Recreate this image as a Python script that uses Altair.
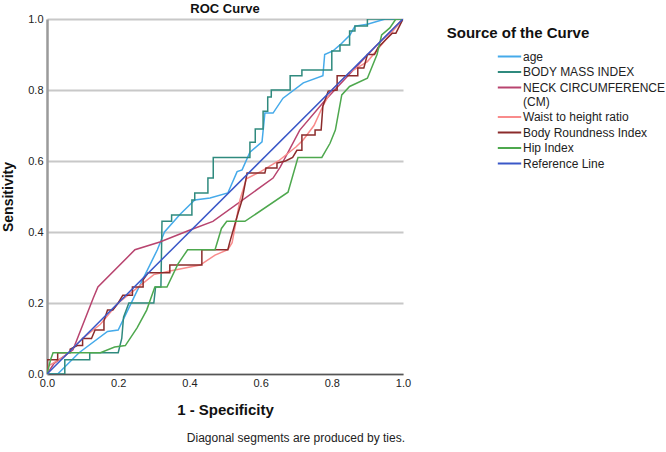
import altair as alt
import pandas as pd

series = ["age", "BODY MASS INDEX", "NECK CIRCUMFERENCE (CM)", "Waist to height ratio",
          "Body Roundness Index", "Hip Index", "Reference Line"]
colors = ["#45aaea", "#2f8a7e", "#b8446f", "#f98b8b", "#8b2b2b", "#4ea84e", "#3a58c8"]

age_x = [0, 0.03, 0.09, 0.17, 0.2, 0.25, 0.31, 0.33, 0.374, 0.415, 0.458, 0.508, 0.534, 0.548,
         0.57, 0.604, 0.612, 0.635, 0.663, 0.72, 0.775, 0.78, 0.803, 0.823, 0.851, 0.865, 0.9, 0.95, 1]
age_y = [0, 0.0, 0.06, 0.12, 0.124, 0.228, 0.35, 0.40, 0.45, 0.49, 0.496, 0.51, 0.57, 0.575,
         0.625, 0.654, 0.735, 0.735, 0.777, 0.82, 0.84, 0.9, 0.91, 0.927, 0.955, 0.98, 0.985, 1.0, 1]

bmi_x = [0, 0.05, 0.05, 0.12, 0.12, 0.2, 0.21, 0.215, 0.23, 0.3, 0.305, 0.32, 0.323, 0.35, 0.35,
         0.374, 0.374, 0.407, 0.407, 0.415, 0.415, 0.452, 0.452, 0.467, 0.467, 0.57, 0.57, 0.585,
         0.585, 0.607, 0.607, 0.62, 0.62, 0.63, 0.63, 0.683, 0.683, 0.716, 0.716, 0.80, 0.80, 0.823,
         0.823, 0.85, 0.85, 0.865, 0.865, 0.9, 0.9, 1]
bmi_y = [0, 0, 0.04, 0.04, 0.06, 0.06, 0.1, 0.16, 0.2, 0.2, 0.245, 0.245, 0.43, 0.43, 0.448,
         0.448, 0.448, 0.448, 0.49, 0.49, 0.51, 0.51, 0.552, 0.552, 0.61, 0.61, 0.653, 0.653,
         0.69, 0.69, 0.74, 0.74, 0.78, 0.78, 0.80, 0.80, 0.84, 0.84, 0.856, 0.856, 0.91, 0.91,
         0.927, 0.927, 0.966, 0.966, 0.98, 0.98, 1.0, 1]

neck_x = [0, 0.02, 0.073, 0.13, 0.143, 0.247, 0.317, 0.40, 0.466, 0.635, 0.655, 0.71, 0.78, 0.85, 0.92, 1]
neck_y = [0, 0.03, 0.068, 0.214, 0.245, 0.35, 0.372, 0.405, 0.43, 0.552, 0.583, 0.687, 0.77, 0.845, 0.92, 1]

waist_x = [0, 0.0, 0.05, 0.1, 0.15, 0.2, 0.25, 0.3, 0.345, 0.43, 0.472, 0.508, 0.52, 0.542, 0.56,
           0.6, 0.65, 0.7, 0.72, 0.75, 0.775, 0.8, 0.85, 0.9, 0.95, 1]
waist_y = [0, 0.02, 0.05, 0.1, 0.14, 0.2, 0.24, 0.28, 0.29, 0.307, 0.335, 0.35, 0.37, 0.49, 0.55,
           0.57, 0.6, 0.64, 0.66, 0.7, 0.755, 0.8, 0.85, 0.88, 0.94, 1]

bri_x = [0, 0, 0.03, 0.03, 0.065, 0.065, 0.085, 0.1, 0.1, 0.125, 0.135, 0.16, 0.16, 0.17, 0.185,
         0.2, 0.213, 0.24, 0.24, 0.27, 0.27, 0.284, 0.345, 0.345, 0.374, 0.374, 0.435, 0.435, 0.508,
         0.513, 0.537, 0.548, 0.562, 0.612, 0.615, 0.646, 0.646, 0.67, 0.69, 0.702, 0.716, 0.716,
         0.753, 0.753, 0.77, 0.775, 0.79, 0.815, 0.815, 0.873, 0.873, 0.89, 0.9, 0.92, 0.93, 0.95,
         0.97, 0.98, 0.99, 1]
bri_y = [0, 0.04, 0.04, 0.06, 0.06, 0.07, 0.08, 0.08, 0.1, 0.1, 0.124, 0.124, 0.15, 0.18, 0.18,
         0.2, 0.222, 0.222, 0.245, 0.245, 0.265, 0.285, 0.285, 0.307, 0.307, 0.307, 0.307, 0.35,
         0.35, 0.37, 0.454, 0.49, 0.566, 0.566, 0.58, 0.58, 0.594, 0.6, 0.61, 0.63, 0.63, 0.673,
         0.673, 0.687, 0.687, 0.755, 0.797, 0.80, 0.84, 0.84, 0.862, 0.862, 0.9, 0.9, 0.92, 0.94,
         0.96, 0.96, 0.98, 1]

hip_x = [0, 0.01, 0.017, 0.15, 0.19, 0.22, 0.253, 0.28, 0.303, 0.337, 0.368, 0.395, 0.472, 0.49,
         0.505, 0.556, 0.677, 0.705, 0.772, 0.795, 0.81, 0.828, 0.85, 0.9, 0.927, 0.94, 0.963, 0.98, 1]
hip_y = [0, 0.04, 0.06, 0.06, 0.076, 0.08, 0.13, 0.18, 0.245, 0.245, 0.31, 0.35, 0.35, 0.41,
         0.43, 0.43, 0.512, 0.61, 0.61, 0.65, 0.687, 0.786, 0.81, 0.833, 0.9, 0.955, 0.975, 1.0, 1]

ref_x = [0, 1]
ref_y = [0, 1]

tick_values = [0.0, 0.2, 0.4, 0.6, 0.8, 1.0]

rows = []
for name, xs, ys in zip(series, [age_x, bmi_x, neck_x, waist_x, bri_x, hip_x, ref_x],
                        [age_y, bmi_y, neck_y, waist_y, bri_y, hip_y, ref_y]):
    for i, (a, b) in enumerate(zip(xs, ys)):
        rows.append({"series": name, "fpr": a, "tpr": b, "ord": i})
df = pd.DataFrame(rows)

FONT = "Liberation Sans"

lines = alt.Chart(df).mark_line(strokeWidth=1.5, clip=True).encode(
    x=alt.X("fpr:Q", scale=alt.Scale(domain=[0, 1], nice=False),
            axis=alt.Axis(values=tick_values, format=".1f", title="1 - Specificity",
                          grid=False, ticks=False, domainColor="#555555", domainWidth=1.5,
                          labelFontSize=11, labelColor="#222222", labelPadding=3,
                          labelFlush=False, labelOverlap=False,
                          titleFontSize=15, titleFontWeight="bold", titlePadding=14,
                          titleColor="#111111")),
    y=alt.Y("tpr:Q", scale=alt.Scale(domain=[0, 1], nice=False),
            axis=alt.Axis(values=tick_values, format=".1f", title="Sensitivity",
                          grid=True, gridColor="#c8c8c8", gridWidth=2, ticks=False,
                          domainColor="#9a9a9a", domainWidth=2.5,
                          labelFontSize=11, labelColor="#222222", labelPadding=4,
                          labelFlush=False, labelOverlap=False,
                          titleFontSize=14, titleFontWeight="bold", titlePadding=12,
                          titleColor="#111111")),
    color=alt.Color("series:N", scale=alt.Scale(domain=series, range=colors),
                    legend=alt.Legend(title=None, orient="none", legendX=455, legendY=30,
                                      symbolType="M-1.8,0L1.8,0", symbolSize=169, symbolStrokeWidth=2,
                                      labelFontSize=12, labelColor="#222222", labelLimit=300,
                                      rowPadding=1.5, labelOffset=6,
                                      labelExpr="datum.label == 'NECK CIRCUMFERENCE (CM)' ? ['NECK CIRCUMFERENCE', '(CM)'] : datum.label")),
    order="ord:Q",
)

chart_title = alt.Chart(pd.DataFrame({"t": ["ROC Curve"]})).mark_text(
    fontSize=13, fontWeight="bold", font=FONT, align="center", baseline="middle", color="#111111"
).encode(x=alt.value(178), y=alt.value(-10), text="t:N")

legend_title = alt.Chart(pd.DataFrame({"t": ["Source of the Curve"]})).mark_text(
    fontSize=15, fontWeight="bold", font=FONT, align="center", baseline="middle", color="#111111"
).encode(x=alt.value(471), y=alt.value(14), text="t:N")

footnote = alt.Chart(pd.DataFrame({"t": ["Diagonal segments are produced by ties."]})).mark_text(
    fontSize=12, font=FONT, align="right", baseline="middle", color="#222222"
).encode(x=alt.value(358), y=alt.value(419), text="t:N")

chart = alt.layer(lines, chart_title, legend_title, footnote).properties(
    width=356, height=355,
    autosize=alt.AutoSizeParams(type="none"),
    padding={"left": 47, "top": 19, "right": 263, "bottom": 78},
).configure(font=FONT).configure_view(stroke=None)

chart.save("out.html", embed_options={"renderer": "svg", "actions": False})
